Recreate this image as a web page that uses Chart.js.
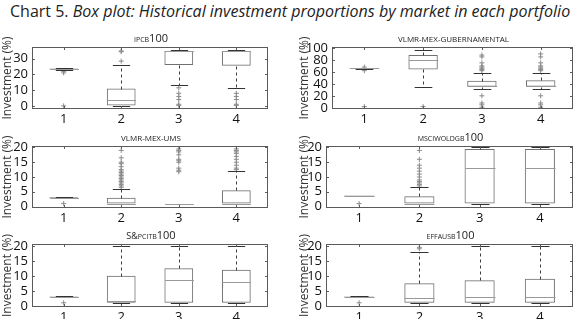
<!DOCTYPE html>
<html lang="en">
<head>
<meta charset="UTF-8">
<title>Chart 5. Box plot</title>
<script src="https://cdn.jsdelivr.net/npm/chart.js"></script>
<style>
  body { margin: 0; width: 580px; height: 319px; position: relative; overflow: hidden; background: #fff; font-family: "Open Sans", sans-serif; }
  .main-title { position: absolute; left: 10px; top: 0px; font-size: 16px; color: #222; white-space: nowrap; }
  .sub { position: absolute; color: #222; white-space: nowrap; font-size: 11px; line-height: 11px; transform: translateX(-50%); z-index: 2; }
  canvas { position: absolute; }
</style>
</head>
<body>
<div class="main-title">Chart 5. <i>Box plot: Historical investment proportions by market in each portfolio</i></div>

<script>
// categories (portfolios) on the x axis
const categories = [1, 2, 3, 4];

// subplot titles: [text, font size]
const panelTitles = [
  [['IPCB', 7], ['100', 11]],
  [['VLMR-MEX-GUBERNAMENTAL', 8]],
  [['VLMR-MEX-UMS', 8]],
  [['MSCIWOLDGB', 7], ['100', 11]],
  [['S&', 9], ['PCITB', 7], ['100', 11]],
  [['EFFAUSB', 7], ['100', 11]]
];

// y axis ranges and tick labels
const yMins = [-2, -2, -0.5, -0.5, -0.4, -0.4];
const yMaxs = [37.5, 101.5, 20.5, 20.5, 20.6, 20.6];
const yTicks = [
  [0, 10, 20, 30],
  [0, 20, 40, 60, 80, 100],
  [0, 5, 10, 15, 20],
  [0, 5, 10, 15, 20],
  [0, 5, 10, 15, 20],
  [0, 5, 10, 15, 20]
];

// box statistics, one row per panel, one value per portfolio
const q1 = [
  [23.2, 0.2, 26, 25.5],
  [65.6, 64, 35, 35],
  [3, 1, 1, 1],
  [3.5, 1, 1, 1],
  [3, 1, 1, 1],
  [3, 1, 1, 1]
];
const medians = [
  [23.5, 3.5, 35, 35],
  [66, 79, 37, 37],
  [3, 1, 1, 1],
  [3.5, 1, 13, 13],
  [3, 1.5, 8.5, 8],
  [3, 2.5, 3, 3]
];
const q3 = [
  [23.8, 11, 35, 35],
  [66.5, 88, 45, 46],
  [3.2, 3, 1, 5.5],
  [3.7, 3.5, 19.5, 19.5],
  [3.2, 10, 12.5, 12],
  [3.2, 7.5, 8.5, 9]
];
const whiskerLow = [
  [23, 0, 13, 11.5],
  [65, 35, 31, 32],
  [3, 1, 1, 1],
  [3.5, 1, 1, 1],
  [3, 1, 1, 1],
  [3, 1, 1, 1]
];
const whiskerHigh = [
  [24, 26, 35.5, 35.5],
  [67, 97, 58, 58],
  [3.2, 6, 1, 12],
  [3.7, 6.5, 20, 20],
  [3.2, 20, 20, 20],
  [3.2, 18, 20, 20]
];

// outliers: [portfolio, value]
const outliers = [
  [[1, 22], [1, 21], [1, 0], [2, 28.5], [2, 34.5], [2, 35],
   [3, 11.5], [3, 8], [3, 6], [3, 4], [3, 1], [3, 0.3],
   [4, 8], [4, 6], [4, 4], [4, 1], [4, 0.3]],
  [[1, 68], [1, 62], [1, 2], [2, 2],
   [3, 62], [3, 64], [3, 66], [3, 68], [3, 70], [3, 75], [3, 85], [3, 88], [3, 20], [3, 8], [3, 5], [3, 1],
   [4, 62], [4, 64], [4, 66], [4, 68], [4, 70], [4, 75], [4, 85], [4, 90], [4, 20], [4, 8], [4, 5], [4, 1]],
  [[1, 1],
   [2, 6.5], [2, 7], [2, 7.5], [2, 8], [2, 8.5], [2, 9], [2, 9.5], [2, 10], [2, 10.5], [2, 11], [2, 11.5],
   [2, 12], [2, 12.5], [2, 13.5], [2, 14.5], [2, 15], [2, 16.5], [2, 19],
   [3, 11.8], [3, 12.3], [3, 13], [3, 15], [3, 15.5], [3, 16], [3, 17.5], [3, 18.5], [3, 19], [3, 19.5],
   [4, 12.5], [4, 13], [4, 14], [4, 15], [4, 16], [4, 17], [4, 18], [4, 18.5], [4, 19], [4, 19.5]],
  [[1, 1], [2, 7], [2, 7.5], [2, 8], [2, 8.5], [2, 9], [2, 10], [2, 11], [2, 12], [2, 13], [2, 14], [2, 16], [2, 19]],
  [[1, 1]],
  [[1, 1], [2, 19], [2, 19.5]]
];

// plot frames (pixels) and canvas origins
const frames = [
  { L: 32, R: 270, T: 47, B: 109, cx: 0 },
  { L: 332, R: 575, T: 47, B: 109, cx: 297 },
  { L: 32, R: 270, T: 146, B: 208, cx: 0 },
  { L: 326, R: 575, T: 146, B: 208, cx: 297 },
  { L: 32, R: 270, T: 244, B: 307, cx: 0 },
  { L: 326, R: 575, T: 244, B: 307, cx: 297 }
];

const tickFont = { family: '"Open Sans", sans-serif', size: 13 };

function hline(ctx, x1, x2, y) {
  ctx.beginPath(); ctx.moveTo(x1, y); ctx.lineTo(x2, y); ctx.stroke();
}
function vline(ctx, x, y1, y2) {
  ctx.beginPath(); ctx.moveTo(x, y1); ctx.lineTo(x, y2); ctx.stroke();
}

function boxParts(p) {
  return {
    id: 'boxParts',
    afterDatasetsDraw(chart) {
      const { ctx, chartArea: a, scales: { x, y } } = chart;
      const snap = v => Math.round(v) + 0.5;
      ctx.save();
      ctx.lineWidth = 1;
      categories.forEach((c, i) => {
        const px = snap(x.getPixelForValue(c));
        const cap = x.getPixelForValue(c + 0.15) - x.getPixelForValue(c);
        const half = x.getPixelForValue(c + 0.25) - x.getPixelForValue(c);
        const yq1 = snap(y.getPixelForValue(q1[p][i]));
        const yq3 = snap(y.getPixelForValue(q3[p][i]));
        const ylo = snap(y.getPixelForValue(whiskerLow[p][i]));
        const yhi = snap(y.getPixelForValue(whiskerHigh[p][i]));
        const ymed = snap(y.getPixelForValue(medians[p][i]));
        ctx.strokeStyle = '#3c3c3c';
        ctx.setLineDash([3, 3]);
        if (yhi < yq3) vline(ctx, px, yq3, yhi);
        if (ylo > yq1) vline(ctx, px, yq1, ylo);
        ctx.setLineDash([]);
        ctx.strokeStyle = '#333';
        hline(ctx, px - cap, px + cap, yhi);
        hline(ctx, px - cap, px + cap, ylo);
        ctx.strokeStyle = '#999';
        hline(ctx, px - half, px + half, ymed);
      });
      // frame with inward ticks
      ctx.strokeStyle = '#5a5a5a';
      ctx.strokeRect(a.left + 0.5, a.top + 0.5, a.width - 1, a.height - 1);
      y.ticks.forEach(t => {
        const py = snap(y.getPixelForValue(t.value));
        hline(ctx, a.left, a.left + 3, py);
        hline(ctx, a.right - 3, a.right, py);
      });
      x.ticks.forEach(t => {
        const px = snap(x.getPixelForValue(t.value));
        vline(ctx, px, a.bottom, a.bottom - 3);
        vline(ctx, px, a.top, a.top + 3);
      });
      ctx.restore();
    }
  };
}

frames.forEach((f, p) => {
  const cy = f.T - 14;
  const cw = f.R + 3 - f.cx;
  const ch = f.B + 18 - cy;
  const canvas = document.createElement('canvas');
  canvas.width = cw;
  canvas.height = ch;
  canvas.style.left = f.cx + 'px';
  canvas.style.top = cy + 'px';
  document.body.appendChild(canvas);

  // subplot title
  const t = document.createElement('div');
  t.className = 'sub';
  t.style.left = ((f.L + f.R) / 2) + 'px';
  t.style.top = (f.T - 15) + 'px';
  panelTitles[p].forEach(([txt, size]) => {
    const s = document.createElement('span');
    s.textContent = txt;
    s.style.fontSize = size + 'px';
    t.appendChild(s);
  });
  document.body.appendChild(t);

  new Chart(canvas, {
    type: 'bar',
    data: {
      datasets: [
        {
          type: 'bar',
          data: categories.map((c, i) => ({ x: c, y: [q1[p][i], q3[p][i]] })),
          backgroundColor: 'rgba(0,0,0,0)',
          borderColor: '#707070',
          borderWidth: 1,
          borderSkipped: false,
          categoryPercentage: 1,
          barPercentage: 0.5
        },
        {
          type: 'scatter',
          data: outliers[p].map(([c, v]) => ({ x: c, y: v })),
          pointStyle: 'cross',
          radius: 2.5,
          borderColor: '#8a8a8a',
          borderWidth: 1
        }
      ]
    },
    options: {
      responsive: false,
      animation: false,
      events: [],
      layout: { padding: { top: f.T - cy, right: cw - (f.R - f.cx), left: 0, bottom: 0 } },
      plugins: { legend: { display: false }, tooltip: { enabled: false } },
      scales: {
        x: {
          type: 'linear',
          offset: false,
          min: 0.45,
          max: 4.55,
          grid: { display: false, drawTicks: false },
          border: { display: false },
          afterBuildTicks: s => { s.ticks = categories.map(v => ({ value: v })); },
          afterFit: s => { s.height = ch - (f.B - cy); },
          ticks: { font: tickFont, color: '#111', padding: 2, maxRotation: 0, autoSkip: false }
        },
        y: {
          type: 'linear',
          min: yMins[p],
          max: yMaxs[p],
          grid: { display: false, drawTicks: false },
          border: { display: false },
          afterBuildTicks: s => { s.ticks = yTicks[p].map(v => ({ value: v })); },
          afterFit: s => { s.width = f.L - f.cx; },
          ticks: { font: tickFont, color: '#111', padding: 4, autoSkip: false },
          title: {
            display: true,
            text: 'Investment (%)',
            font: { family: '"Open Sans", sans-serif', size: 12 },
            color: '#333',
            padding: 0
          }
        }
      }
    },
    plugins: [boxParts(p)]
  });
});
</script>
</body>
</html>
